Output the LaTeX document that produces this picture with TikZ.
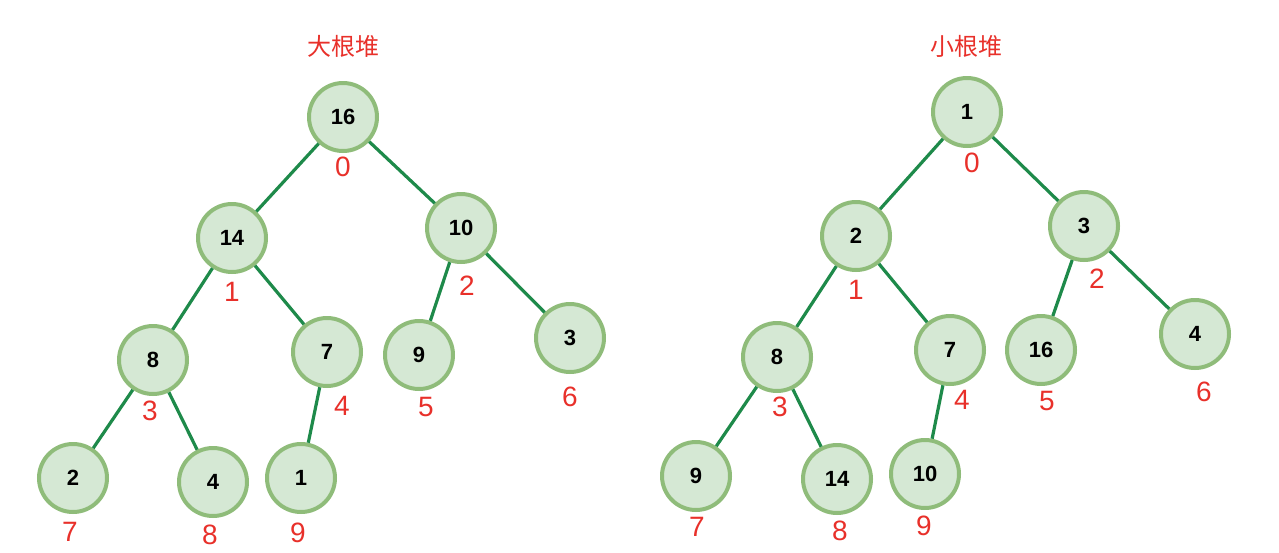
\documentclass[tikz,border=0pt]{standalone}
\usepackage{fontspec}
\setmainfont{Liberation Sans}
\newfontfamily\cjk{Noto Sans CJK SC}
\definecolor{heapfill}{HTML}{D5E8D4}
\definecolor{heapdraw}{HTML}{8FBC7A}
\definecolor{heapedge}{HTML}{1E8A4A}
\definecolor{heapred}{HTML}{E8302A}
\begin{document}
\begin{tikzpicture}[x=0.5pt, y=-0.5pt,
  hnode/.style={circle, minimum size=34pt, inner sep=0pt, fill=heapfill, draw=heapdraw, line width=2pt, font=\fontsize{11}{13}\selectfont\bfseries},
  hidx/.style={text=heapred, font=\fontsize{14}{16}\selectfont},
  htitle/.style={text=heapred, font=\cjk\fontsize{12}{14}\selectfont},
  hedge/.style={draw=heapedge, line width=1.6pt}]
\useasboundingbox (0,0) rectangle (1279,552);
% max heap
\node[htitle] (ltitle) at (343,46){大根堆};
\node[hnode] (L0) at (343,117){16};
\node[hnode] (L1) at (232,238){14};
\node[hnode] (L2) at (461,228){10};
\node[hnode] (L3) at (153,360){8};
\node[hnode] (L4) at (327,352){7};
\node[hnode] (L5) at (419,355){9};
\node[hnode] (L6) at (570,338){3};
\node[hnode] (L7) at (73,478){2};
\node[hnode] (L8) at (213,482){4};
\node[hnode] (L9) at (301,478){1};
\node[hidx] (lidx0) at (343,167){0};
\node[hidx] (lidx1) at (232,292){1};
\node[hidx] (lidx2) at (467,286){2};
\node[hidx] (lidx3) at (150,411){3};
\node[hidx] (lidx4) at (342,406){4};
\node[hidx] (lidx5) at (426,407){5};
\node[hidx] (lidx6) at (570,397){6};
\node[hidx] (lidx7) at (70,532){7};
\node[hidx] (lidx8) at (210,535){8};
\node[hidx] (lidx9) at (298,533){9};
\draw[hedge](L0) -- (L1);
\draw[hedge](L0) -- (L2);
\draw[hedge](L1) -- (L3);
\draw[hedge](L1) -- (L4);
\draw[hedge](L2) -- (L5);
\draw[hedge](L2) -- (L6);
\draw[hedge](L3) -- (L7);
\draw[hedge](L3) -- (L8);
\draw[hedge](L4) -- (L9);
% min heap
\node[htitle] (rtitle) at (966,46){小根堆};
\node[hnode] (R0) at (967,112){1};
\node[hnode] (R1) at (856,236){2};
\node[hnode] (R2) at (1084,226){3};
\node[hnode] (R3) at (777,357){8};
\node[hnode] (R4) at (950,350){7};
\node[hnode] (R5) at (1041,350){16};
\node[hnode] (R6) at (1195,334){4};
\node[hnode] (R7) at (696,476){9};
\node[hnode] (R8) at (837,479){14};
\node[hnode] (R9) at (925,474){10};
\node[hidx] (ridx0) at (972,163){0};
\node[hidx] (ridx1) at (856,290){1};
\node[hidx] (ridx2) at (1097,279){2};
\node[hidx] (ridx3) at (780,407){3};
\node[hidx] (ridx4) at (962,400){4};
\node[hidx] (ridx5) at (1047,401){5};
\node[hidx] (ridx6) at (1204,392){6};
\node[hidx] (ridx7) at (697,527){7};
\node[hidx] (ridx8) at (840,531){8};
\node[hidx] (ridx9) at (924,526){9};
\draw[hedge](R0) -- (R1);
\draw[hedge](R0) -- (R2);
\draw[hedge](R1) -- (R3);
\draw[hedge](R1) -- (R4);
\draw[hedge](R2) -- (R5);
\draw[hedge](R2) -- (R6);
\draw[hedge](R3) -- (R7);
\draw[hedge](R3) -- (R8);
\draw[hedge](R4) -- (R9);
\end{tikzpicture}
\end{document}
